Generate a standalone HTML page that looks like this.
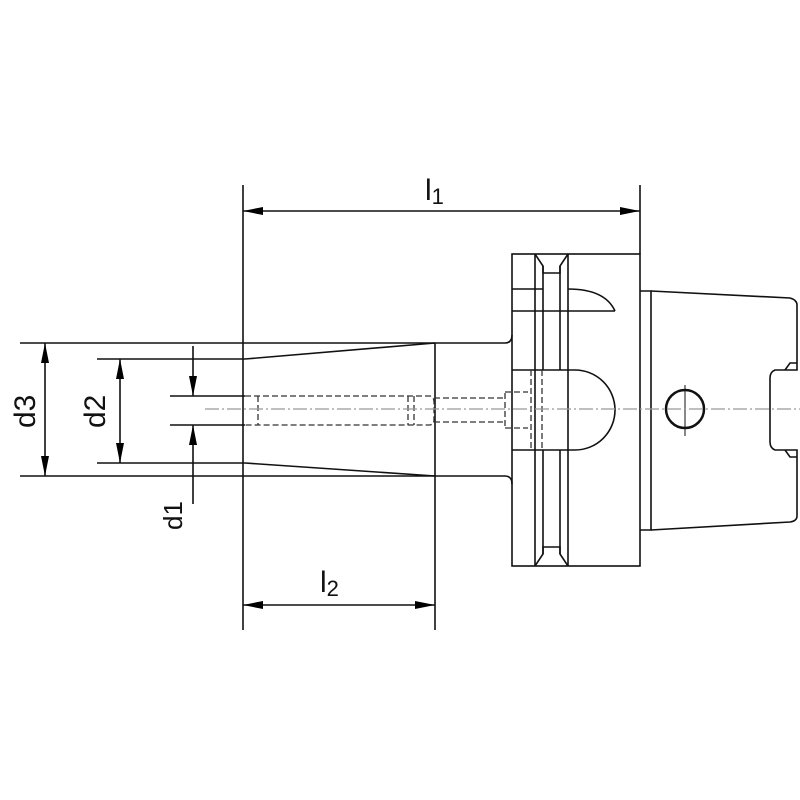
<!DOCTYPE html>
<html><head><meta charset="utf-8"><style>html,body{margin:0;padding:0;background:#fff}svg{display:block}</style></head>
<body>
<svg width="800" height="800" viewBox="0 0 800 800" xmlns="http://www.w3.org/2000/svg">
<defs>
<marker id="a" viewBox="0 0 20 8" refX="20" refY="4" markerWidth="20" markerHeight="8" markerUnits="userSpaceOnUse" orient="auto-start-reverse"><path d="M0,0 L20,4 L0,8 z" fill="#000"/></marker>
</defs>
<g fill="none" stroke="#111" stroke-width="1.6">
<line x1="243" y1="185" x2="243" y2="630"/>
<line x1="640" y1="185" x2="640" y2="254"/>
<line x1="435" y1="343" x2="435" y2="630"/>
<line x1="20" y1="343" x2="435" y2="343"/>
<line x1="20" y1="476" x2="435" y2="476"/>
<line x1="97" y1="359" x2="245" y2="359"/>
<line x1="97" y1="463" x2="245" y2="463"/>
<line x1="170" y1="396" x2="245" y2="396"/>
<line x1="170" y1="425" x2="245" y2="425"/>
<line x1="243" y1="211" x2="640" y2="211" marker-start="url(#a)" marker-end="url(#a)"/>
<line x1="243" y1="605" x2="435" y2="605" marker-start="url(#a)" marker-end="url(#a)"/>
<line x1="45" y1="343" x2="45" y2="476" marker-start="url(#a)" marker-end="url(#a)"/>
<line x1="120" y1="359" x2="120" y2="463" marker-start="url(#a)" marker-end="url(#a)"/>
<line x1="193" y1="346" x2="193" y2="396" marker-end="url(#a)"/>
<line x1="193" y1="504" x2="193" y2="425" marker-end="url(#a)"/>
<path d="M245,359 L435,343 M245,463 L435,476"/>
<path d="M435,343 L505,343 Q512,343 512,335 M435,476 L505,476 Q512,476 512,484"/>
<rect x="512" y="254" width="128" height="312"/>
<path d="M535,254 L543,266 L543,273 L560,273 L560,266 L568,254"/>
<path d="M535,566 L543,554 L543,547 L560,547 L560,554 L568,566"/>
<path d="M535,254 L535,566 M568,254 L568,566 M543,266 L543,300 M560,266 L560,300"/>
<path d="M543,300 L543,370 M560,300 L560,370 M543,450 L543,554 M560,450 L560,554"/>
<path d="M512,289 L543,289 M512,311 L615,311 M568,289 Q605,289 615,311"/>
<path d="M512,370 L575,370 A40,40 0 0 1 575,450 L512,450"/>
<path d="M640,291 L651,291 L651,530 L640,530"/>
<path d="M651,291 L790,298 Q797,300 797,305 L797,370 L775,370 Q770,372 770,378 L770,442 Q770,448 775,450 L797,450 L797,516 Q797,521 790,522 L651,530"/>
<path d="M785,370 L790,363 L797,363 M785,450 L790,457 L797,457"/>
<circle cx="685" cy="409" r="19" stroke-width="2.5"/>
<line x1="685" y1="385" x2="685" y2="436" stroke-width="1"/>
</g>
<g fill="none" stroke="#333" stroke-width="1.3" stroke-dasharray="6,3">
<path d="M245,396 L430,396 Q434,397 434,402 L434,420 Q434,424 430,425 L245,425"/>
<path d="M258,396 L258,425 M408,396 L408,425 M414,396 L414,425"/>
<path d="M434,398 L505,398 M434,422 L505,422 M505,393 L505,427"/>
<path d="M505,392 L528,392 M505,428 L528,428"/>
<path d="M531,370 L531,450 M542,370 L542,450"/>
</g>
<line x1="205" y1="409" x2="800" y2="409" stroke="#999" stroke-width="1.2" stroke-dasharray="14,3,2,3"/>
<g font-family="Liberation Sans, sans-serif" font-size="30" fill="#111">
<text x="425" y="200">l<tspan font-size="22" dy="4">1</tspan></text>
<text x="320" y="592">l<tspan font-size="22" dy="4">2</tspan></text>
<text transform="translate(35,428) rotate(-90)">d3</text>
<text transform="translate(105,428) rotate(-90)">d2</text>
<text transform="translate(182,530) rotate(-90)" font-size="26">d1</text>
</g>
</svg>
</body></html>
